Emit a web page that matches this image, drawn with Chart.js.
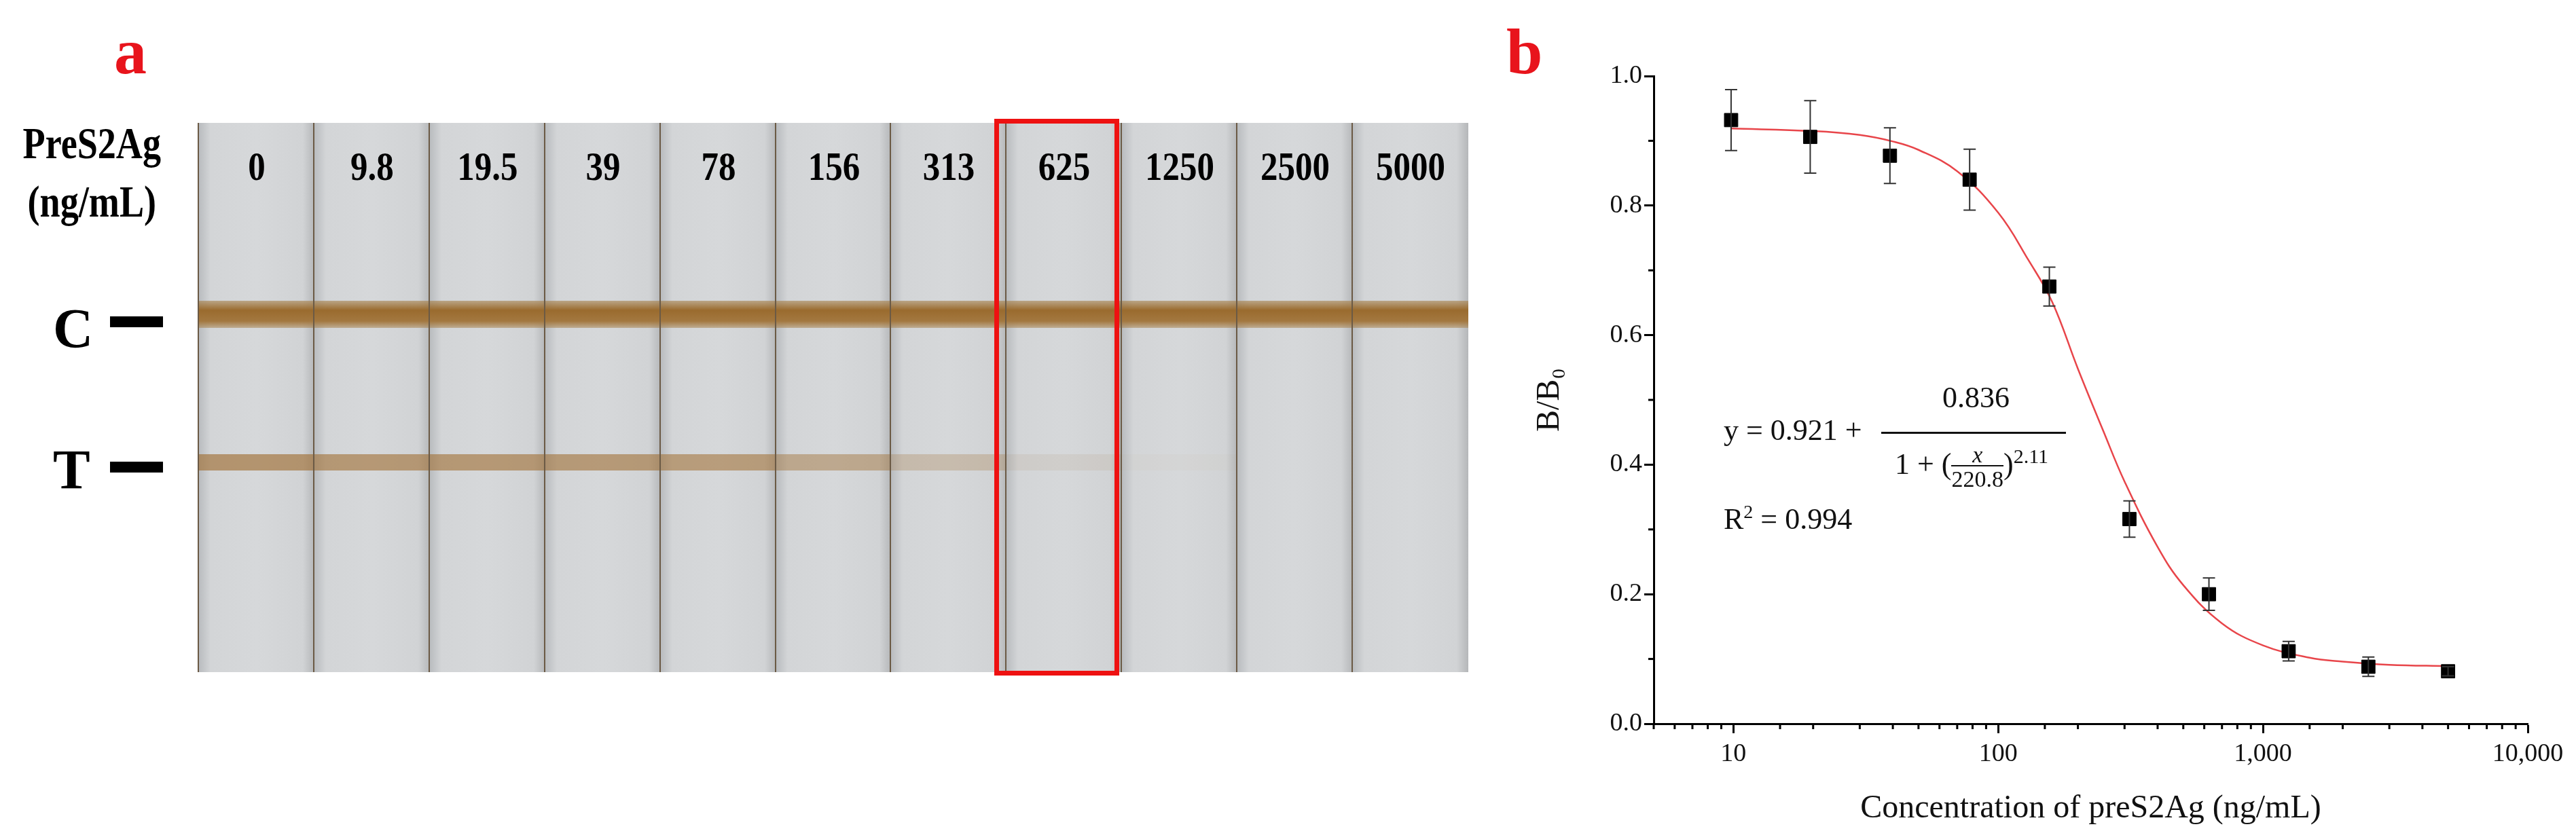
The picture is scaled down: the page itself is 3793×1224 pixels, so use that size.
<!DOCTYPE html>
<html><head><meta charset="utf-8">
<script src="https://cdn.jsdelivr.net/npm/chart.js@4"></script>
<style>
body{margin:0;width:3793px;height:1224px;background:#fff;position:relative;overflow:hidden;font-family:"Liberation Serif",serif;}
.abs{position:absolute}
.lbl{font-weight:bold;color:#000}
.strip{position:absolute;top:0;bottom:0;background:linear-gradient(90deg,#b9bcbf 0,#d3d5d7 10%,#d6d8da 50%,#d1d3d5 90%,#b5b7b9 100%);border-left:2px solid #6b5a45;}
.band{position:absolute;left:0;right:0}
.eq{font-size:44px;color:#111;white-space:nowrap}
</style></head><body>
<div class="abs lbl" style="left:168px;top:20px;font-size:96px;color:#e8141c">a</div>
<div class="abs lbl" style="left:2218px;top:20px;font-size:96px;color:#e8141c">b</div>
<div class="abs lbl" style="left:0px;top:168px;font-size:66px;line-height:86px;text-align:center;width:330px;transform:scaleX(0.82);transform-origin:left">PreS2Ag<br>(ng/mL)</div>
<div class="abs lbl" style="left:78px;top:437px;font-size:82px">C</div>
<div class="abs" style="left:162px;top:466px;width:78px;height:16px;background:#000"></div>
<div class="abs lbl" style="left:78px;top:645px;font-size:82px">T</div>
<div class="abs" style="left:162px;top:680px;width:78px;height:16px;background:#000"></div>
<div id="strips" class="abs" style="left:291px;top:181px;width:1869px;height:809px;background:#c9cbcd"></div>
<div class="abs" style="left:1464px;top:175px;width:170px;height:806px;border:7px solid #ee1111"></div>
<div style="position:absolute;left:2250px;top:0;width:1543px;height:1224px"><canvas id="c" width="1543" height="1224"></canvas></div>
<div class="abs eq" style="left:2538px;top:608px">y = 0.921 +</div>
<div class="abs eq" style="left:2860px;top:560px">0.836</div>
<div class="abs" style="left:2770px;top:636px;width:272px;height:3px;background:#111"></div>
<div class="abs eq" style="left:2790px;top:652px">1 + (<span style="display:inline-block;text-align:center;font-size:34px;vertical-align:middle;line-height:36px"><i>x</i><br><span style="border-top:2px solid #111">220.8</span></span>)<sup style="font-size:30px">2.11</sup></div>
<div class="abs eq" style="left:2538px;top:738px">R<sup style="font-size:28px">2</sup> = 0.994</div>
<script>
const stripLabels=['0','9.8','19.5','39','78','156','313','625','1250','2500','5000'];
const tIntensity=[0.85,0.8,0.8,0.78,0.75,0.6,0.35,0.12,0.03,0,0];
const conc=[9.8,19.5,39,78,156,313,625,1250,2500,5000];
const ratio=[0.932,0.906,0.877,0.840,0.675,0.316,0.200,0.112,0.088,0.081];
const errs=[0.047,0.056,0.043,0.047,0.030,0.028,0.025,0.015,0.015,0.007];
const fitX=[9.8,20,30,40,50,70,100,130,160,200,250,300,400,500,700,1000,1500,2000,3000,5000];
const fitY=[0.919,0.915,0.909,0.899,0.886,0.853,0.789,0.716,0.651,0.548,0.451,0.374,0.273,0.214,0.155,0.121,0.102,0.096,0.091,0.089];
const xTicks=[10,100,1000,10000];

const cont=document.getElementById('strips');
const w=1869/stripLabels.length;
stripLabels.forEach((l,i)=>{
  const s=document.createElement('div');s.className='strip';
  s.style.left=(i*w)+'px';s.style.width=w+'px';
  s.innerHTML=`<div class="band" style="top:262px;height:40px;background:linear-gradient(rgba(169,132,79,0.6),#9a6b2e 35%,#a37840 75%,rgba(169,132,79,0.5))"></div>`+
   `<div class="band" style="top:488px;height:24px;background:rgba(160,110,50,${tIntensity[i]*0.75})"></div>`+
   `<div class="lbl" style="position:absolute;top:30px;width:100%;text-align:center;font-size:60px;transform:scaleX(0.85)">${l}</div>`;
  cont.appendChild(s);
});

const errPlugin={id:'err',afterDatasetsDraw(ch){
  const {ctx,scales:{x,y}}=ch;ctx.save();ctx.strokeStyle='#333';ctx.lineWidth=2;
  conc.forEach((c,i)=>{const px=x.getPixelForValue(c),t=y.getPixelForValue(ratio[i]+errs[i]),b=y.getPixelForValue(ratio[i]-errs[i]);
    ctx.beginPath();ctx.moveTo(px,t);ctx.lineTo(px,b);ctx.moveTo(px-9,t);ctx.lineTo(px+9,t);ctx.moveTo(px-9,b);ctx.lineTo(px+9,b);ctx.stroke();});
  ctx.strokeStyle='#000';ctx.lineWidth=3;
  const yb=y.bottom,xl=x.left;
  x.ticks.forEach(t=>{if(!xTicks.includes(t.value)){const p=x.getPixelForValue(t.value);ctx.beginPath();ctx.moveTo(p,yb);ctx.lineTo(p,yb+8);ctx.stroke();}});
  for(let v=0.1;v<1;v+=0.2){const p=y.getPixelForValue(v);ctx.beginPath();ctx.moveTo(xl,p);ctx.lineTo(xl-8,p);ctx.stroke();}
  ctx.restore();}};

new Chart(document.getElementById('c'),{
  data:{datasets:[
    {type:'line',data:fitX.map((v,i)=>({x:v,y:fitY[i]})),borderColor:'#e8454a',borderWidth:2.5,pointRadius:0,tension:0.4,order:2},
    {type:'scatter',data:conc.map((v,i)=>({x:v,y:ratio[i]})),pointStyle:'rect',pointRadius:14,backgroundColor:'#000',borderColor:'#000',order:1}
  ]},
  options:{responsive:false,animation:false,devicePixelRatio:1,
    layout:{padding:{top:112,right:71,bottom:0,left:0}},
    plugins:{legend:{display:false},tooltip:{enabled:false}},
    scales:{
      x:{type:'logarithmic',min:5,max:10000,
        afterFit:s=>{s.height=158;},
        grid:{drawOnChartArea:false,tickLength:14,tickWidth:3,tickColor:c=>xTicks.includes(c.tick&&c.tick.value)?'#000':'rgba(0,0,0,0)'},
        border:{color:'#000',width:3},
        ticks:{autoSkip:false,maxRotation:0,color:'#111',font:{family:'Liberation Serif',size:38},padding:8,
          callback:v=>xTicks.includes(v)?v.toLocaleString('en-US'):''},
        title:{display:true,text:'Concentration of preS2Ag (ng/mL)',color:'#111',font:{family:'Liberation Serif',size:48},padding:{top:18}}},
      y:{min:0,max:1,
        afterFit:s=>{s.width=185;},
        grid:{drawOnChartArea:false,tickLength:14,tickWidth:3,tickColor:'#000'},
        border:{color:'#000',width:3},
        ticks:{stepSize:0.2,color:'#111',font:{family:'Liberation Serif',size:38},callback:v=>v.toFixed(1)},
        title:{display:true,text:'B/B₀',color:'#111',font:{family:'Liberation Serif',size:48},padding:{bottom:20}}}
    }},
  plugins:[errPlugin]
});
</script>
</body></html>
